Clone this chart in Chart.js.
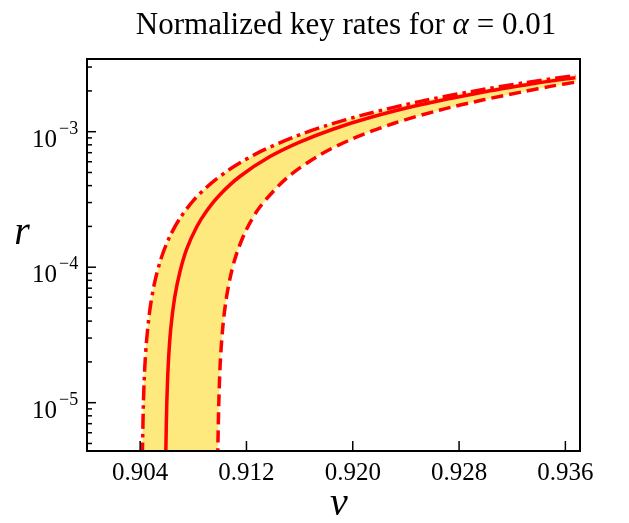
<!DOCTYPE html>
<html>
<head>
<meta charset="utf-8">
<script src="https://cdn.jsdelivr.net/npm/chart.js@4"></script>
<style>
  body { margin: 0; background: #fff; }
</style>
</head>
<body>
<canvas id="rateChart" width="629" height="523"></canvas>
<script>
// v on x, normalized key rate r on a log y axis
const dashDotV = [0.90410, 0.90418, 0.90425, 0.90435, 0.90450, 0.90475, 0.90510, 0.90560, 0.90625, 0.90700, 0.90800,
                  0.90925, 0.91100, 0.91300, 0.91550, 0.91800, 0.92100, 0.92500, 0.92900, 0.93300, 0.93675];
const dashDotR = [1.5e-6, 4.8e-6, 1.04e-5, 1.84e-5, 3.0e-5, 5.0e-5, 7.8e-5, 1.18e-4, 1.70e-4, 2.30e-4, 3.10e-4,
                  4.09e-4, 5.49e-4, 7.09e-4, 9.08e-4, 1.108e-3, 1.348e-3, 1.667e-3, 1.985e-3, 2.305e-3, 2.60e-3];

const solidV = [0.90585, 0.90594, 0.90600, 0.90612, 0.90630, 0.90660, 0.90700, 0.90750, 0.90825, 0.90900, 0.91000,
                0.91150, 0.91377, 0.91600, 0.91850, 0.92130, 0.92500, 0.92984, 0.93300, 0.93487, 0.93675];
const solidR = [1.5e-6, 4.8e-6, 9.5e-6, 1.95e-5, 3.5e-5, 6.0e-5, 9.3e-5, 1.36e-4, 1.98e-4, 2.60e-4, 3.43e-4,
                4.67e-4, 6.55e-4, 8.38e-4, 1.043e-3, 1.272e-3, 1.573e-3, 1.963e-3, 2.215e-3, 2.362e-3, 2.505e-3];

const dashedV = [0.90975, 0.90985, 0.90992, 0.91002, 0.91020, 0.91045, 0.91080, 0.91126, 0.91200, 0.91301,
                 0.91503, 0.91754, 0.92000, 0.92300, 0.92650, 0.92984, 0.93300, 0.93487, 0.93675];
const dashedR = [1.5e-6, 4.8e-6, 1.0e-5, 1.9e-5, 3.45e-5, 5.6e-5, 8.6e-5, 1.26e-4, 1.90e-4, 2.78e-4,
                 4.55e-4, 6.75e-4, 8.88e-4, 1.145e-3, 1.44e-3, 1.72e-3, 1.99e-3, 2.16e-3, 2.32e-3];

const xTicks = [0.904, 0.912, 0.920, 0.928, 0.936];
const yDecades = [-5, -4, -3];

const pts = (xs, ys) => xs.map((x, i) => ({ x, y: ys[i] }));

// band = dash-dot curve up, then dashed curve back down
const band = pts(dashDotV, dashDotR).concat(pts(dashedV, dashedR).reverse());

const SERIF = '"Liberation Serif", "DejaVu Serif", serif';

const decorations = {
    id: 'decorations',
    afterDraw(chart) {
        const ctx = chart.ctx;
        const a = chart.chartArea;
        const xs = chart.scales.x;
        const ys = chart.scales.y;
        ctx.save();
        ctx.strokeStyle = '#000';
        ctx.fillStyle = '#000';

        // x ticks (inward) and labels
        ctx.lineWidth = 1.5;
        ctx.font = '25px ' + SERIF;
        ctx.textAlign = 'center';
        ctx.textBaseline = 'alphabetic';
        xTicks.forEach(t => {
            const px = xs.getPixelForValue(t);
            ctx.beginPath();
            ctx.moveTo(px, a.bottom);
            ctx.lineTo(px, a.bottom - 10);
            ctx.stroke();
            ctx.fillText(t.toFixed(3), px, a.bottom + 29);
        });

        // y ticks: majors at decades, minors 2..9
        for (let e = -6; e <= -2; e++) {
            for (let m = 1; m <= 9; m++) {
                const v = m * Math.pow(10, e);
                if (v < ys.min || v > ys.max) continue;
                const py = ys.getPixelForValue(v);
                ctx.beginPath();
                ctx.moveTo(a.left, py);
                ctx.lineTo(a.left + (m === 1 ? 9 : 5), py);
                ctx.stroke();
            }
        }
        yDecades.forEach(e => {
            const py = ys.getPixelForValue(Math.pow(10, e));
            ctx.textAlign = 'right';
            ctx.font = '25px ' + SERIF;
            ctx.fillText('10', 57, py + 15);
            ctx.textAlign = 'left';
            ctx.font = '18px ' + SERIF;
            ctx.fillText('\u2212' + (-e), 59, py + 2);
        });

        // frame
        ctx.lineWidth = 2;
        ctx.strokeRect(a.left, a.top, a.right - a.left, a.bottom - a.top);

        // axis titles
        ctx.font = 'italic 40px ' + SERIF;
        ctx.textAlign = 'center';
        ctx.textBaseline = 'middle';
        ctx.fillText('v', 339, 504);
        ctx.fillText('r', 22, 233);

        // title with italic alpha
        const parts = [
            ['Normalized key rates for ', '31px ' + SERIF],
            ['\u03b1', 'italic 31px ' + SERIF],
            [' = ', '31px ' + SERIF],
            ['0.01', '31px ' + SERIF]
        ];
        let total = 0;
        parts.forEach(p => { ctx.font = p[1]; total += ctx.measureText(p[0]).width; });
        let x = 346 - total / 2;
        ctx.textAlign = 'left';
        ctx.textBaseline = 'alphabetic';
        parts.forEach(p => {
            ctx.font = p[1];
            ctx.fillText(p[0], x, 34);
            x += ctx.measureText(p[0]).width;
        });
        ctx.restore();
    }
};

const lineStyle = {
    borderColor: '#ff0000',
    borderWidth: 3.5,
    tension: 0.3,
    pointRadius: 0,
    fill: false,
    clip: 0,
    order: 0
};

new Chart(document.getElementById('rateChart'), {
    type: 'line',
    data: {
        datasets: [
            Object.assign({ label: 'upper', data: pts(dashDotV, dashDotR), borderDash: [15, 5, 3.5, 5] }, lineStyle),
            Object.assign({ label: 'central', data: pts(solidV, solidR) }, lineStyle),
            Object.assign({ label: 'lower', data: pts(dashedV, dashedR), borderDash: [12, 6] }, lineStyle),
            {
                label: 'band',
                data: band,
                borderWidth: 0,
                borderColor: 'rgba(0,0,0,0)',
                backgroundColor: 'rgba(254,212,10,0.52)',
                tension: 0.3,
                pointRadius: 0,
                fill: 'shape',
                clip: 0,
                order: 5
            }
        ]
    },
    options: {
        responsive: false,
        animation: false,
        layout: { padding: { left: 87, right: 49, top: 59, bottom: 72 } },
        plugins: {
            legend: { display: false },
            tooltip: { enabled: false }
        },
        scales: {
            x: { type: 'linear', min: 0.900, max: 0.9371, display: false },
            y: { type: 'logarithmic', min: 4.4e-6, max: 3.44e-3, display: false }
        }
    },
    plugins: [decorations]
});
</script>
</body>
</html>
